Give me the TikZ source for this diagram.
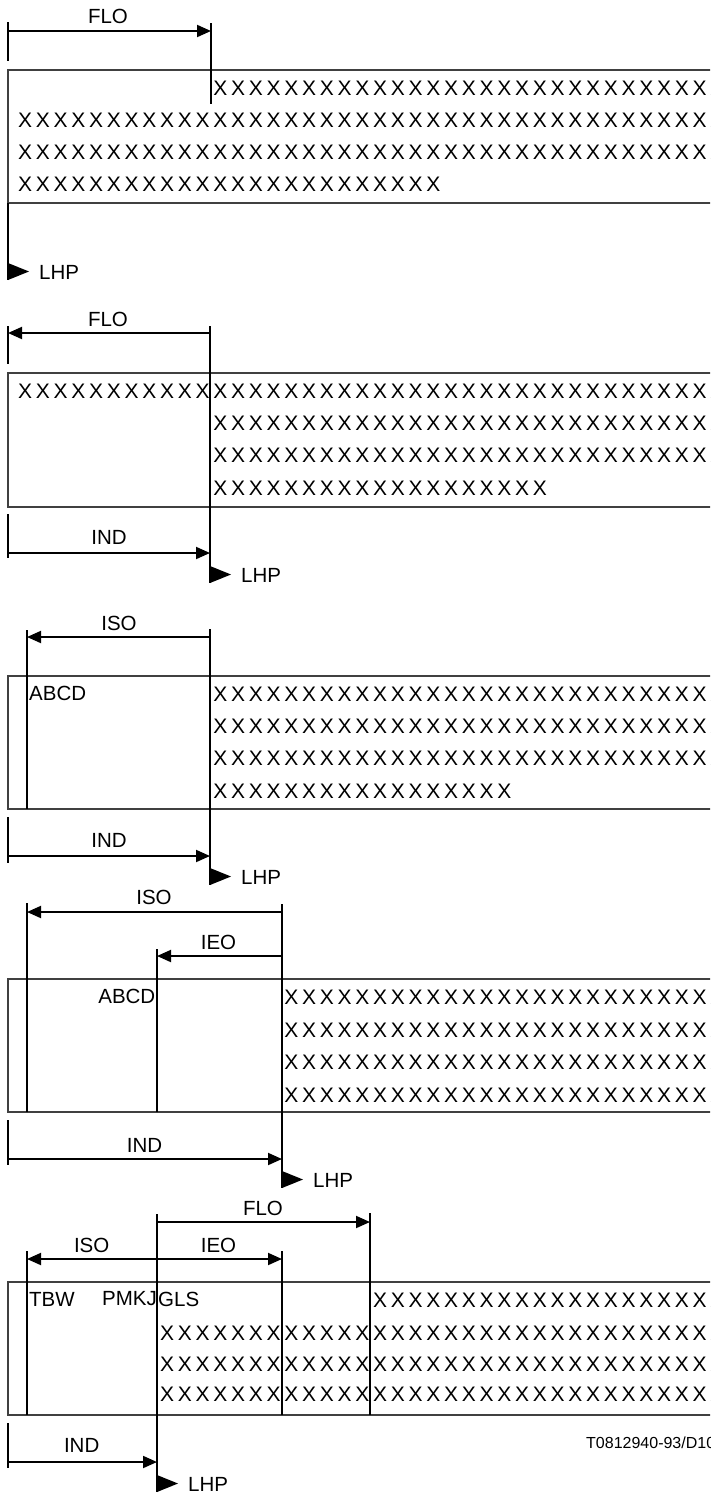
\documentclass[tikz,border=0pt]{standalone}
\usepackage{fontspec}
\setmainfont{Liberation Sans}
\usetikzlibrary{arrows.meta}
\newlength\xpitch
\setlength\xpitch{17.75pt}
\newcommand\xrun[1]{\foreach \k in {1,...,#1}{\makebox[\xpitch]{X}}}
\newcommand\lblfont{\fontsize{20.5pt}{24pt}\selectfont}
\newcommand\xfont{\fontsize{21pt}{24pt}\selectfont}
\newcommand\lhpmark[3]{%
  \fill (#1,#2-17) -- (#1+21,#2-8.5) -- (#1,#2) -- cycle;
  \node[lbl,anchor=west] (#3) at (#1+31,#2-8) {LHP};}
\tikzset{
  lbl/.style={font=\lblfont, inner sep=0pt},
  xrow/.style={font=\xfont, inner sep=0pt, anchor=west},
  dim/.style={line width=1.9pt, line cap=butt},
  arr/.style={dim, -{Triangle[length=14pt,width=12pt]}},
  frame/.style={line width=1.3pt, draw=black!75},
}
\begin{document}
\begin{tikzpicture}[x=1pt,y=-1pt]
\useasboundingbox (0,0) rectangle (710,1494);
\clip (0,0) rectangle (710,1494);

% ---------------- Panel 1 ----------------
\draw[frame] (8,70) rectangle (760,203);
\coordinate (a1t) at (8,22);   \coordinate (a1b) at (8,61);
\coordinate (a1s) at (8,31);   \coordinate (a1e) at (211,31);
\coordinate (v1t) at (211,23); \coordinate (v1b) at (211,104);
\coordinate (l1t) at (8,203);  \coordinate (l1b) at (8,280);
\draw[dim] (a1t) -- (a1b);
\draw[arr] (a1s) -- (a1e);
\draw[dim] (v1t) -- (v1b);
\draw[dim] (l1t) -- (l1b);
\node[lbl] (flo1) at (108,16.7) {FLO};
\node[xrow] (r11) at (211.35,88) {\xrun{29}};
\node[xrow] (r12) at (16.1,120) {\xrun{40}};
\node[xrow] (r13) at (16.1,152) {\xrun{40}};
\node[xrow] (r14) at (16.1,184.5) {\xrun{24}};
\lhpmark{8}{280}{lhp1}

% ---------------- Panel 2 ----------------
\draw[frame] (8,373) rectangle (760,507);
\coordinate (a2t) at (8,326);   \coordinate (a2b) at (8,364);
\coordinate (a2s) at (210,333); \coordinate (a2e) at (8,333);
\coordinate (v2t) at (210,326); \coordinate (v2b) at (210,583);
\coordinate (i2t) at (8,514);   \coordinate (i2b) at (8,558);
\coordinate (i2s) at (8,553);   \coordinate (i2e) at (210,553);
\draw[dim] (a2t) -- (a2b);
\draw[arr] (a2s) -- (a2e);
\draw[dim] (v2t) -- (v2b);
\draw[dim] (i2t) -- (i2b);
\draw[arr] (i2s) -- (i2e);
\node[lbl] (flo2) at (108,319.5) {FLO};
\node[lbl] (ind2) at (109,537) {IND};
\node[xrow] (r21) at (16.1,391) {\xrun{40}};
\node[xrow] (r22) at (211.35,423) {\xrun{29}};
\node[xrow] (r23) at (211.35,455.5) {\xrun{29}};
\node[xrow] (r24) at (211.35,488) {\xrun{19}};
\lhpmark{210}{583}{lhp2}

% ---------------- Panel 3 ----------------
\draw[frame] (8,676) rectangle (760,809);
\coordinate (s3t) at (27,630);  \coordinate (s3b) at (27,809);
\coordinate (s3s) at (210,637); \coordinate (s3e) at (27,637);
\coordinate (v3t) at (210,629); \coordinate (v3b) at (210,885);
\coordinate (i3t) at (8,817);   \coordinate (i3b) at (8,863);
\coordinate (i3s) at (8,856);   \coordinate (i3e) at (210,856);
\draw[dim] (s3t) -- (s3b);
\draw[arr] (s3s) -- (s3e);
\draw[dim] (v3t) -- (v3b);
\draw[dim] (i3t) -- (i3b);
\draw[arr] (i3s) -- (i3e);
\node[lbl] (iso3) at (119,623.7) {ISO};
\node[lbl] (ind3) at (109,840.5) {IND};
\node[lbl,anchor=west] (abcd3) at (29,693.7) {ABCD};
\node[xrow] (r31) at (211.35,694) {\xrun{29}};
\node[xrow] (r32) at (211.35,726.5) {\xrun{29}};
\node[xrow] (r33) at (211.35,758.5) {\xrun{29}};
\node[xrow] (r34) at (211.35,791) {\xrun{17}};
\lhpmark{210}{885}{lhp3}

% ---------------- Panel 4 ----------------
\draw[frame] (8,979) rectangle (760,1112);
\coordinate (s4t) at (27,903);   \coordinate (s4b) at (27,1112);
\coordinate (s4s) at (282,912);  \coordinate (s4e) at (27,912);
\coordinate (v4t) at (282,904);  \coordinate (v4b) at (282,1188);
\coordinate (e4t) at (157,949);  \coordinate (e4b) at (157,1112);
\coordinate (e4s) at (282,956);  \coordinate (e4e) at (157,956);
\coordinate (i4t) at (8,1120);   \coordinate (i4b) at (8,1165);
\coordinate (i4s) at (8,1159);   \coordinate (i4e) at (282,1159);
\draw[dim] (s4t) -- (s4b);
\draw[arr] (s4s) -- (s4e);
\draw[dim] (v4t) -- (v4b);
\draw[dim] (e4t) -- (e4b);
\draw[arr] (e4s) -- (e4e);
\draw[dim] (i4t) -- (i4b);
\draw[arr] (i4s) -- (i4e);
\node[lbl] (iso4) at (154,897) {ISO};
\node[lbl] (ieo4) at (218.5,942.5) {IEO};
\node[lbl] (ind4) at (144.5,1145.5) {IND};
\node[lbl,anchor=east] (abcd4) at (155.5,996.5) {ABCD};
\node[xrow] (r41) at (282.35,997.5) {\xrun{25}};
\node[xrow] (r42) at (282.35,1030) {\xrun{25}};
\node[xrow] (r43) at (282.35,1062.5) {\xrun{25}};
\node[xrow] (r44) at (282.35,1095) {\xrun{25}};
\lhpmark{282}{1188}{lhp4}

% ---------------- Panel 5 ----------------
\draw[frame] (8,1282) rectangle (760,1415);
\coordinate (f5t) at (370,1213);  \coordinate (f5b) at (370,1415);
\coordinate (f5s) at (157,1222);  \coordinate (f5e) at (370,1222);
\coordinate (v5t) at (157,1214);  \coordinate (v5b) at (157,1492);
\coordinate (s5t) at (27,1251);   \coordinate (s5b) at (27,1415);
\coordinate (e5t) at (282,1251);  \coordinate (e5b) at (282,1415);
\coordinate (m5) at (157,1259);
\coordinate (s5e) at (27,1259);   \coordinate (e5e) at (282,1259);
\coordinate (i5t) at (8,1423);    \coordinate (i5b) at (8,1468);
\coordinate (i5s) at (8,1462);    \coordinate (i5e) at (157,1462);
\draw[dim] (f5t) -- (f5b);
\draw[arr] (f5s) -- (f5e);
\draw[dim] (v5t) -- (v5b);
\draw[dim] (s5t) -- (s5b);
\draw[dim] (e5t) -- (e5b);
\draw[arr] (m5) -- (s5e);
\draw[arr] (m5) -- (e5e);
\draw[dim] (i5t) -- (i5b);
\draw[arr] (i5s) -- (i5e);
\node[lbl] (flo5) at (263,1208) {FLO};
\node[lbl] (iso5) at (91.7,1245) {ISO};
\node[lbl] (ieo5) at (218.5,1245) {IEO};
\node[lbl] (ind5) at (81.7,1445.5) {IND};
\node[lbl,anchor=west] (tbw5) at (29,1299) {TBW};
\node[lbl,anchor=east] (pmkj5) at (157,1299) {PMKJ};
\node[lbl,anchor=west] (gls5) at (158,1299) {GLS};
\node[xrow] (r51) at (371.1,1300) {\xrun{20}};
\node[xrow] (r52) at (158.1,1333) {\xrun{32}};
\node[xrow] (r53) at (158.1,1364) {\xrun{32}};
\node[xrow] (r54) at (158.1,1394.5) {\xrun{32}};
\lhpmark{157}{1492}{lhp5}
\node[inner sep=0pt,anchor=west,font=\fontsize{16pt}{18pt}\selectfont] (ref) at (586,1443) {T0812940-93/D10};
\end{tikzpicture}
\end{document}
